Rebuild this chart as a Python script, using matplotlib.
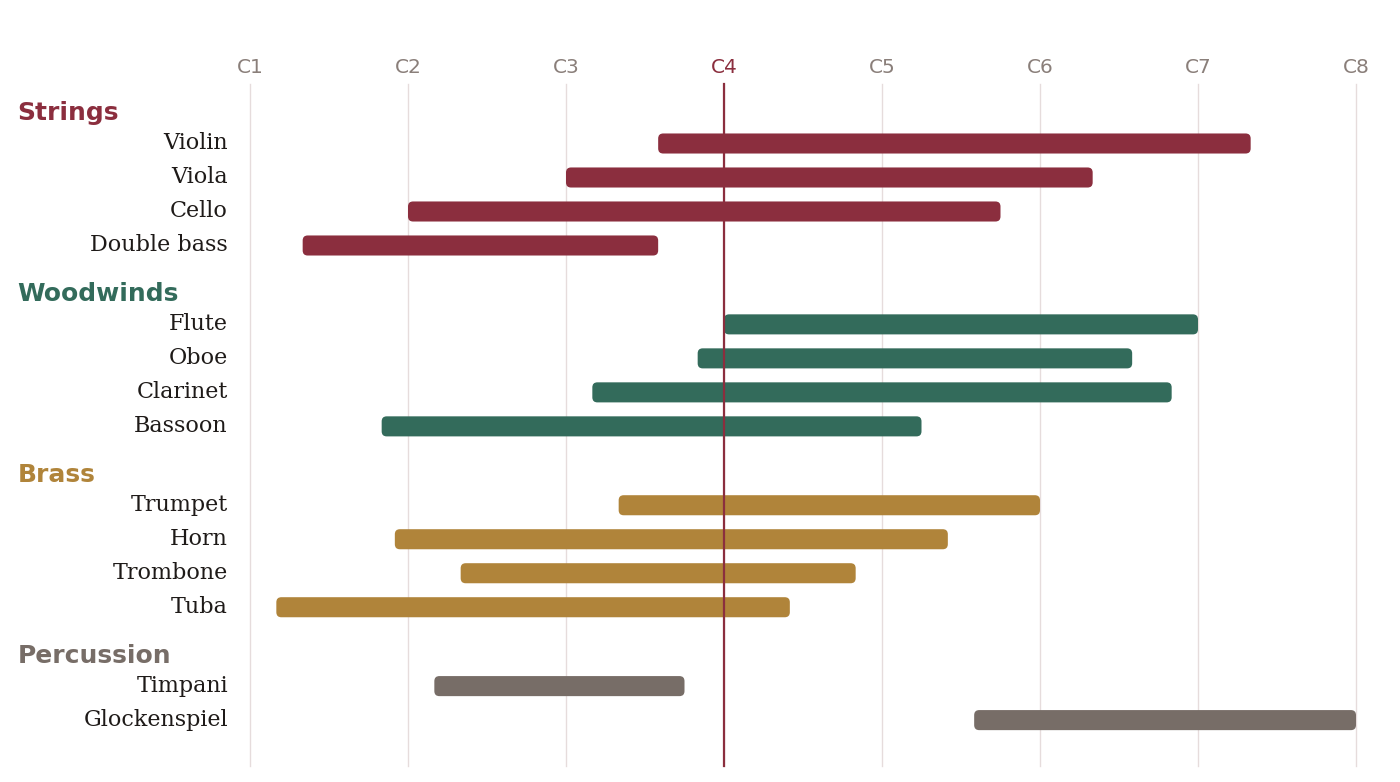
import matplotlib
matplotlib.use("Agg")
import matplotlib.pyplot as plt
from matplotlib.patches import FancyBboxPatch

# ranges in octaves, C1 = 1.0 (a semitone is 1/12)
groups = ["Strings", "Woodwinds", "Brass", "Percussion"]
group_colors = ["#8B2E3E", "#336B5B", "#B0843A", "#776D67"]
instruments = [
    ["Violin", "Viola", "Cello", "Double bass"],
    ["Flute", "Oboe", "Clarinet", "Bassoon"],
    ["Trumpet", "Horn", "Trombone", "Tuba"],
    ["Timpani", "Glockenspiel"],
]
lows = [
    [3 + 7/12, 3.0, 2.0, 1 + 4/12],
    [4.0, 3 + 10/12, 3 + 2/12, 1 + 10/12],
    [3 + 4/12, 1 + 11/12, 2 + 4/12, 1 + 2/12],
    [2 + 2/12, 5 + 7/12],
]
highs = [
    [7 + 4/12, 6 + 4/12, 5 + 9/12, 3 + 7/12],
    [7.0, 6 + 7/12, 6 + 10/12, 5 + 3/12],
    [6.0, 5 + 5/12, 4 + 10/12, 4 + 5/12],
    [3 + 9/12, 8.0],
]
tick_labels = ["C1", "C2", "C3", "C4", "C5", "C6", "C7", "C8"]

grid_col = "#E6DCDC"
tick_col = "#8A7F7A"
text_col = "#1E1A18"

fig = plt.figure(figsize=(14, 7.82), dpi=100)
ax = fig.add_axes([250/1400, 16/782, 1106/1400, 682/782])

ax.set_xlim(1, 8)
ax.set_ylim(20.06, 0)

# vertical grid
for i in range(len(tick_labels)):
    ax.axvline(i + 1, color=grid_col, lw=1.0, zorder=0, clip_on=False)

bar_h = 0.59
aspect = 158 / 34  # y units per x unit in pixels ratio
y = 0.85
for g, name in enumerate(groups):
    col = group_colors[g]
    ax.text(-0.21, y, name, transform=ax.get_yaxis_transform(),
            ha="left", va="center", fontsize=18, fontweight="bold",
            color=col, family="DejaVu Sans")
    y += 0.9
    for k, inst in enumerate(instruments[g]):
        lo, hi = lows[g][k], highs[g][k]
        box = FancyBboxPatch((lo, y - bar_h/2), hi - lo, bar_h,
                             boxstyle="round,pad=0,rounding_size=0.032",
                             mutation_aspect=aspect,
                             fc=col, ec="none", zorder=2)
        ax.add_patch(box)
        ax.text(-0.02, y, inst, transform=ax.get_yaxis_transform(),
                ha="right", va="center", fontsize=16,
                color=text_col, family="DejaVu Serif")
        y += 1
    y += 0.42

# middle C
ax.axvline(4, color=group_colors[0], lw=1.6, zorder=3, clip_on=False)

ax.xaxis.tick_top()
ax.set_xticks(range(1, 9))
ax.set_xticklabels(tick_labels, fontsize=14.5, color=tick_col)
ax.get_xticklabels()[3].set_color(group_colors[0])
ax.tick_params(axis="x", length=0, pad=5)
ax.set_yticks([])
for s in ax.spines.values():
    s.set_visible(False)

fig.savefig("out.png", dpi=100)
